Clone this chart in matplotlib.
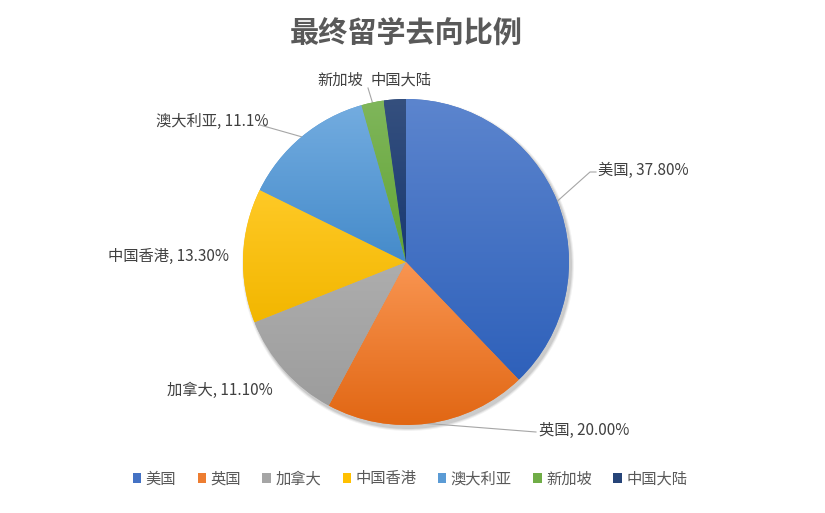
import matplotlib
matplotlib.use("Agg")
import matplotlib.pyplot as plt
import numpy as np
from matplotlib.patches import Patch, Circle
from matplotlib.colors import to_rgb, rgb_to_hsv, hsv_to_rgb

plt.rcParams['font.family'] = ['Noto Sans CJK SC', 'DejaVu Sans']

# 数据
countries = ['美国', '英国', '加拿大', '中国香港', '澳大利亚', '新加坡', '中国大陆']
shares = [37.8, 20.0, 11.1, 13.3, 13.3, 2.2, 2.2]
label_texts = ['美国, 37.80%', '英国, 20.00%', '加拿大, 11.10%', '中国香港, 13.30%',
               '澳大利亚, 11.1%', '新加坡', '中国大陆']
colors = ['#4472C4', '#ED7D31', '#A5A5A5', '#FFC000', '#5B9BD5', '#70AD47', '#264478']

W, H = 825, 513
CX, CY, R = 406, H - 262, 163

# 标签位置 (像素, 自上而下), 对齐方式, 引线折点
label_pos = [(598, 170), (539, 430), (273, 390), (229, 256), (268, 121), (340, 80), (401, 80)]
label_ha = ['left', 'left', 'right', 'right', 'right', 'center', 'center']
leader_pts = [[(590, 172), (596, 172)], [(536, 432)], None, None, [(260, 125)], [(368, 88)], None]


def shade(c, s_fac, v_fac):
    h, s, v = rgb_to_hsv(np.array(to_rgb(c)))
    return hsv_to_rgb([h, min(s * s_fac, 1), min(v * v_fac, 1)])


fig = plt.figure(figsize=(W / 100, H / 100), dpi=100)
ax = fig.add_axes([0, 0, 1, 1])

# 阴影
for k, a in [(4, 0.05), (3, 0.07), (2, 0.09)]:
    ax.add_patch(Circle((CX + 2, CY - 3), R + k - 1, color='black', alpha=a, lw=0, zorder=0))

wedges, _ = ax.pie(shares, colors=colors, startangle=90, counterclock=False,
                   center=(CX, CY), radius=R, frame=True,
                   wedgeprops=dict(linewidth=0))

# 渐变填充
for w, c in zip(wedges, colors):
    ext = w.get_path().get_extents()
    top = shade(c, 0.85, 1.05)
    bot = shade(c, 1.15, 0.95)
    t = np.linspace(0, 1, 64)[:, None]
    grad = (bot[None, :] * (1 - t) + top[None, :] * t)[:, None, :]
    im = ax.imshow(grad, extent=[ext.x0, ext.x1, ext.y0, ext.y1], origin='lower',
                   aspect='auto', zorder=2, interpolation='bilinear')
    im.set_clip_path(w)

ax.set_xlim(0, W)
ax.set_ylim(0, H)
ax.set_aspect('auto')
ax.axis('off')

# 数据标签与引线
for w, txt, (px, py), ha, pts in zip(wedges, label_texts, label_pos, label_ha, leader_pts):
    ang = np.deg2rad((w.theta1 + w.theta2) / 2)
    ex, ey = CX + R * np.cos(ang), CY + R * np.sin(ang)
    if pts is not None:
        xs = [ex] + [p[0] for p in pts]
        ys = [ey] + [H - p[1] for p in pts]
        ax.plot(xs, ys, color='#A6A6A6', lw=0.8, zorder=1)
    ax.text(px, H - py, txt, ha=ha, va='center', fontsize=11, color='#404040', zorder=5)

ax.text(406, H - 33, '最终留学去向比例', ha='center', va='center', fontsize=21,
        fontweight='bold', color='#595959')

handles = [Patch(facecolor=c, edgecolor='none') for c in colors]
fig.legend(handles, countries, loc='center', bbox_to_anchor=(0.497, 1 - 479 / H), ncol=7,
           frameon=False, fontsize=11, handlelength=0.55, handleheight=0.55,
           handletextpad=0.3, columnspacing=1.4, labelcolor='#595959')

fig.savefig('out.png', dpi=100)
